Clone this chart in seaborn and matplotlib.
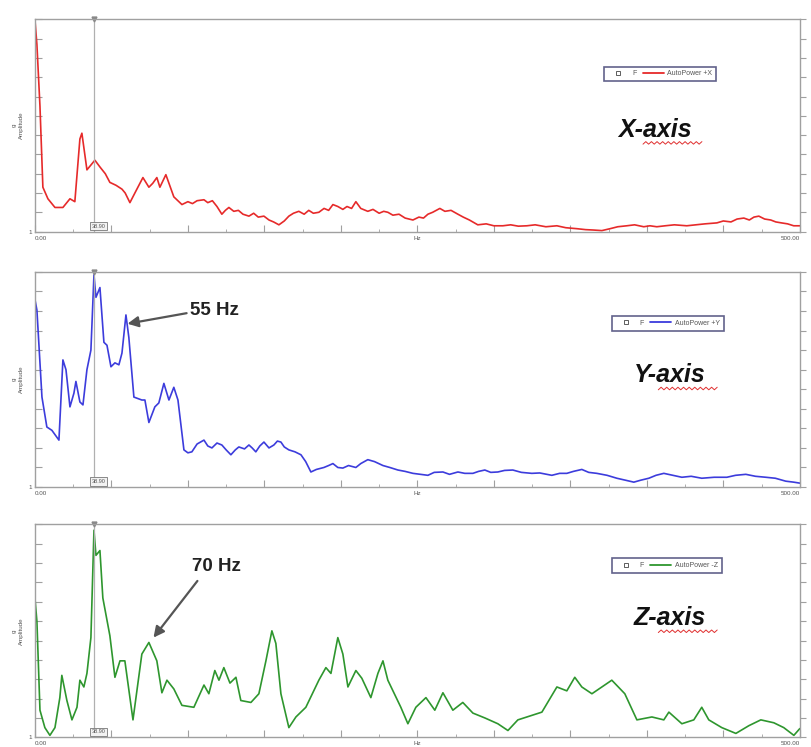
import numpy as np
import matplotlib
matplotlib.use("Agg")
import matplotlib.pyplot as plt
from matplotlib.lines import Line2D
import seaborn as sns

# spectrum readings (Hz, amplitude in axis tick units)
x_freq = [0, 1.3, 3.3, 5.2, 8.5, 13.1, 18.3, 22.9, 26.1, 29.4, 30.7, 34.0, 39.2, 42.5, 46, 49.0,
          53, 56.9, 59, 62.1, 66, 70.6, 74.5, 77, 79.7, 81.7, 85.6, 90.8, 96.1, 100, 103, 106, 110.5,
          113, 116, 119, 122.2, 124.5, 126.8, 130, 133, 136, 139.9, 143, 146, 149.7, 153, 156, 159.5,
          163, 166, 169, 172.5, 176, 179, 182, 185.6, 189, 192, 194.8, 198, 201.3, 204, 207, 209.8,
          213, 217.6, 221, 225, 228, 230.7, 234, 238, 242, 247.1, 251, 254, 256.9, 260, 264.7, 268,
          272, 276.5, 280, 284, 289.5, 295, 300, 305.9, 311, 316, 321.6, 327, 334, 341.2, 347, 354.2,
          360, 365, 370.6, 376, 381, 386.9, 392, 398, 402, 406.5, 412, 418, 426.1, 432, 438, 445.8,
          450, 455, 459, 463.4, 467, 470, 473.2, 477, 481, 484.3, 488, 492, 496, 500]
x_amp = [12.0, 10.7, 7.5, 3.3, 2.7, 2.25, 2.25, 2.7, 2.55, 5.8, 6.1, 4.2, 4.7, 4.35, 4.0, 3.55,
         3.4, 3.2, 3.0, 2.5, 3.1, 3.8, 3.3, 3.5, 3.8, 3.3, 3.95, 2.8, 2.4, 2.55, 2.45, 2.6, 2.65,
         2.5, 2.6, 2.3, 1.9, 2.1, 2.25, 2.05, 2.1, 1.9, 1.8, 1.95, 1.75, 1.8, 1.6, 1.5, 1.35,
         1.55, 1.8, 1.95, 2.05, 1.9, 2.1, 1.95, 2.0, 2.2, 2.1, 2.4, 2.3, 2.15, 2.3, 2.2, 2.55,
         2.2, 2.05, 2.15, 1.95, 2.05, 2.0, 1.85, 1.9, 1.7, 1.6, 1.75, 1.7, 1.9, 2.0, 2.2, 2.05,
         2.1, 1.9, 1.75, 1.6, 1.35, 1.4, 1.3, 1.3, 1.35, 1.28, 1.3, 1.35, 1.25, 1.3, 1.2, 1.15,
         1.1, 1.08, 1.05, 1.15, 1.25, 1.3, 1.35, 1.25, 1.3, 1.25, 1.3, 1.35, 1.3, 1.35, 1.4, 1.45,
         1.55, 1.5, 1.65, 1.7, 1.6, 1.75, 1.8, 1.65, 1.6, 1.5, 1.45, 1.4, 1.3, 1.3]

y_freq = [0, 1.3, 4.6, 7.8, 11.1, 15.7, 18.3, 20.3, 22.9, 25.5, 26.8, 29.4, 31.4, 34.0, 36.6, 38.6,
          39.9, 42.5, 45.1, 47.1, 49.7, 52.3, 54.9, 56.9, 59.5, 61.4, 64.7, 69.9, 71.9, 74.5, 78.4,
          81.0, 84.3, 87.6, 90.8, 93.5, 97.4, 100, 102.6, 106, 110.5, 113, 115.7, 119, 122.2, 125,
          128.1, 131, 133.3, 137, 139.9, 142, 144.4, 147, 149.7, 153, 156.2, 158.5, 160.8, 163, 166,
          170, 173.9, 177, 180.4, 184, 188.9, 192, 194.8, 198, 201.3, 205, 209.8, 213, 217.6, 222,
          227.5, 232, 237.3, 242, 247.1, 252, 256.9, 261, 266.7, 271, 276.5, 281, 286.3, 290, 294.1,
          298, 302.6, 307, 312.4, 318, 324.8, 330, 337.9, 343, 347.7, 352, 357.5, 362, 367.3, 374,
          380.4, 386, 391.5, 396, 401.3, 406, 411.1, 417, 422.9, 429, 435.9, 444, 452.3, 458, 464.7,
          471, 477.8, 484, 490.8, 496, 500]
y_amp = [10.6, 10.05, 5.6, 4.07, 3.9, 3.4, 7.5, 7.0, 5.1, 5.8, 6.4, 5.35, 5.2, 7.0, 8.0, 11.85,
         10.7, 11.2, 8.4, 8.25, 7.15, 7.35, 7.25, 7.85, 9.8, 8.65, 5.6, 5.45, 5.45, 4.3, 5.1,
         5.3, 6.3, 5.45, 6.1, 5.45, 2.9, 2.75, 2.8, 3.2, 3.4, 3.1, 3.0, 3.25, 3.15, 2.9,
         2.65, 2.9, 3.05, 2.95, 3.15, 3.0, 2.8, 3.1, 3.3, 3.0, 3.15, 3.35, 3.3, 3.05, 2.9,
         2.8, 2.65, 2.3, 1.77, 1.9, 2.0, 2.1, 2.2, 2.0, 1.97, 2.1, 2.0, 2.2, 2.4, 2.3,
         2.1, 2.0, 1.87, 1.8, 1.7, 1.65, 1.6, 1.75, 1.77, 1.65, 1.77, 1.7, 1.7, 1.8, 1.87,
         1.75, 1.77, 1.85, 1.87, 1.75, 1.7, 1.72, 1.6, 1.7, 1.7, 1.8, 1.9, 1.75, 1.7, 1.6,
         1.45, 1.35, 1.25, 1.35, 1.45, 1.6, 1.7, 1.6, 1.5, 1.55, 1.45, 1.5, 1.5, 1.6, 1.65,
         1.55, 1.5, 1.45, 1.3, 1.25, 1.2]

z_freq = [0, 1.3, 3.3, 6.5, 9.8, 13.1, 16.3, 17.6, 20.9, 24.2, 27.5, 29.4, 32.0, 34.0, 36.6, 38.6,
          39.9, 42.5, 44.4, 49.0, 52.3, 55.6, 58.8, 64.1, 69.9, 74.5, 79.7, 83.0, 86.3, 90.8, 96.1,
          103.9, 110.5, 113.7, 117.6, 120.3, 123.5, 127.5, 131.4, 134.6, 141.2, 146.4, 151.0, 154.9,
          157.5, 160.8, 166.0, 170.6, 177.1, 185.6, 190.2, 193.5, 198.0, 201.3, 204.6, 209.8, 213.7,
          219.6, 224.2, 227.5, 230.7, 239.2, 243.8, 249.0, 255.6, 261.4, 266.7, 273.2, 279.7, 286.3,
          294.1, 302.6, 309.2, 315.7, 321.6, 331.4, 341.2, 347.7, 352.9, 357.5, 364.1, 370.6, 377.1,
          385.6, 393.5, 403.3, 411.1, 414.4, 422.9, 430.7, 435.9, 440.5, 449.0, 458.2, 466.7, 474.5,
          483.0, 489.5, 496.1, 500]
z_amp = [8.2, 7.0, 2.4, 1.5, 1.1, 1.5, 3.05, 4.2, 2.9, 1.9, 2.55, 3.95, 3.6, 4.3, 6.15, 11.7,
         10.4, 10.65, 8.2, 6.25, 4.1, 4.95, 4.95, 1.9, 5.3, 5.9, 4.95, 3.3, 3.95, 3.5, 2.65,
         2.55, 3.7, 3.25, 4.45, 3.95, 4.6, 3.8, 4.1, 2.9, 2.8, 3.25, 4.95, 6.5,
         5.85, 3.25, 1.5, 2.05, 2.55, 3.95, 4.6, 4.3, 6.15, 5.3, 3.6, 4.45, 4.05,
         3.05, 4.3, 4.95, 3.95, 2.55, 1.7, 2.55, 3.05, 2.4, 3.3, 2.4, 2.8, 2.25,
         2.0, 1.7, 1.35, 1.9, 2.05, 2.3, 3.6, 3.4, 4.1, 3.6, 3.25, 3.6, 3.95,
         3.25, 1.9, 2.05, 1.9, 2.3, 1.7, 1.9, 2.55, 1.9, 1.5, 1.2, 1.6, 1.9,
         1.75, 1.5, 1.1, 1.45]

cursor_hz = 38.90
axis_names = ["X-axis", "Y-axis", "Z-axis"]
legend_labels = ["AutoPower +X", "AutoPower +Y", "AutoPower -Z"]
colors = ["#e62a2a", "#3c3cdc", "#2e962e"]

sns.set_style("white")
plt.rcParams['font.family'] = ['Liberation Sans', 'DejaVu Sans']

fig = plt.figure(figsize=(8.12, 7.47), dpi=100)
# axes boxes [left, bottom, width, height] in figure fraction
boxes = [[0.043, 0.690, 0.942, 0.284],
         [0.043, 0.348, 0.942, 0.288],
         [0.043, 0.013, 0.942, 0.285]]
leg_pos = [(0.744, 0.778), (0.754, 0.795), (0.754, 0.840)]
name_pos = [(0.81, 0.48), (0.83, 0.52), (0.83, 0.56)]

data = [(x_freq, x_amp), (y_freq, y_amp), (z_freq, z_amp)]
grey = "#a0a0a0"

for i, (fr, am) in enumerate(data):
    ax = fig.add_axes(boxes[i])
    sns.lineplot(x=fr, y=am, ax=ax, color=colors[i], lw=1.2, estimator=None)
    ax.set_xlim(0, 500)
    ax.set_ylim(1, 12)
    for s in ax.spines.values():
        s.set_color(grey)
        s.set_linewidth(1.0)
    ax.set_xticks(np.arange(0, 501, 50))
    ax.set_xticks(np.arange(0, 501, 25), minor=True)
    xl = [""] * 11
    xl[0], xl[5], xl[10] = "0.00", "Hz", "500.00"
    ax.set_xticklabels(xl)
    ax.set_yticks(np.arange(1, 13))
    ax.set_yticklabels(["1"] + [""] * 11)
    ax.tick_params(axis='x', which='major', direction='in', length=5, color=grey,
                   labelsize=4.5, labelcolor="#555555", pad=3, bottom=True)
    ax.tick_params(axis='x', which='minor', direction='in', length=2.5, color=grey, bottom=True)
    ax.tick_params(axis='y', direction='in', length=5, color=grey, labelsize=4.5,
                   labelcolor="#555555", pad=2, left=True)
    ax.get_xticklabels()[0].set_ha('left')
    ax.get_xticklabels()[10].set_ha('right')
    ax.set_ylabel("g\nAmplitude", fontsize=4.5, color="#555555", labelpad=3, linespacing=1.6)
    ax.set_xlabel("")

    axr = ax.twinx()
    axr.set_ylim(1, 12)
    axr.set_yticks(np.arange(1, 13))
    axr.set_yticklabels([])
    axr.tick_params(axis='y', direction='out', length=4, color=grey, right=True)
    for s in axr.spines.values():
        s.set_visible(False)

    # cursor
    ax.axvline(cursor_hz, color="#b0b0b0", lw=0.9)
    ax.plot([cursor_hz], [12], marker='v', color="#888888", ms=3.5, clip_on=False)
    ax.text(cursor_hz - 2, 1.15, "38.90", fontsize=4, color="#555555", ha='left', va='bottom',
            bbox=dict(boxstyle='square,pad=0.3', fc='#f2f2f2', ec='#777777', lw=0.6))

    # legend
    handles = [Line2D([], [], marker='s', mfc='none', mec='#444444', ls='none', ms=3.2, mew=0.6, label='F'),
               Line2D([], [], color=colors[i], lw=1.3, label=legend_labels[i])]
    leg = ax.legend(handles=handles, ncol=2, loc='upper left', bbox_to_anchor=leg_pos[i],
                    fontsize=5, frameon=True, fancybox=False, handlelength=3.0,
                    handletextpad=0.5, columnspacing=0.9, borderpad=0.55, borderaxespad=0,
                    markerfirst=True)
    leg.get_frame().set_edgecolor('#3a3a6e')
    leg.get_frame().set_linewidth(1.2)
    for t in leg.get_texts():
        t.set_color('#555555')

    # big axis name with spelling squiggle
    nx, ny = name_pos[i]
    ax.text(nx, ny, axis_names[i], transform=ax.transAxes, fontsize=18, fontweight='bold',
            fontstyle='italic', ha='center', va='center', color='#111111')
    sq_x = np.linspace(nx - 0.015, nx + 0.062, 22)
    sq_y = ny - 0.068 + np.tile([0.0, 0.012], 11)
    ax.plot(sq_x, sq_y, color='#e03030', lw=0.7, transform=ax.transAxes)

    if i == 1:
        ax.annotate("55 Hz", xy=(60.5, 9.35), xytext=(101.3, 10.05), fontsize=13.5,
                    fontweight='bold', color='#222222', ha='left', va='center',
                    arrowprops=dict(arrowstyle='-|>', color='#555555', lw=1.6,
                                    mutation_scale=16, shrinkA=0, shrinkB=0, relpos=(0, 0.35)))
    if i == 2:
        ax.annotate("70 Hz", xy=(77.5, 6.15), xytext=(102.6, 9.8), fontsize=13.5,
                    fontweight='bold', color='#222222', ha='left', va='center',
                    arrowprops=dict(arrowstyle='-|>', color='#555555', lw=1.6,
                                    mutation_scale=16, shrinkA=2, shrinkB=0, relpos=(0.2, 0)))

fig.savefig("out.png", dpi=100)
